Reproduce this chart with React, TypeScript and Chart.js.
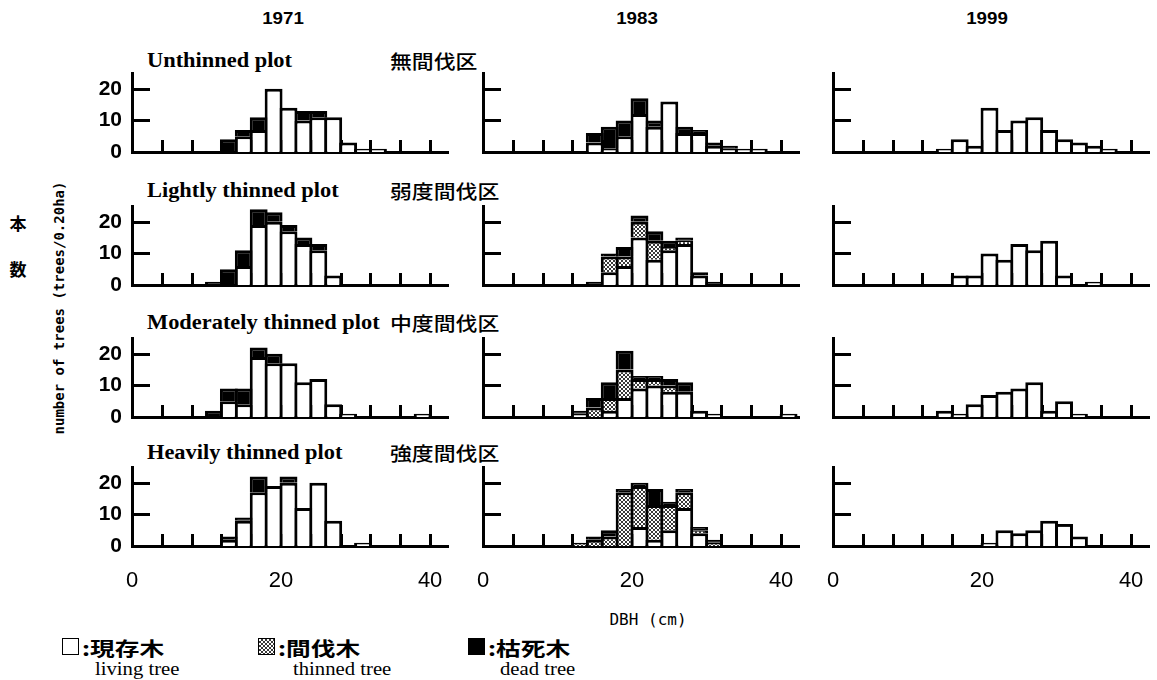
import React, { useEffect, useRef } from "react";
import { Chart, registerables } from "chart.js";

Chart.register(...registerables);

// DBH class centers (cm), 2 cm classes from 0-2 to 40-42
const BIN_CENTERS = [1, 3, 5, 7, 9, 11, 13, 15, 17, 19, 21, 23, 25, 27, 29, 31, 33, 35, 37, 39, 41];
const MINOR_X_TICKS = [4, 8, 12, 16, 20, 24, 28, 32, 36, 40];
const Y_TICK_MARKS = [10, 20];
const YEARS = ["1971", "1983", "1999"];
const PLOTS_EN = ["Unthinned plot", "Lightly thinned plot", "Moderately thinned plot", "Heavily thinned plot"];
const PLOTS_JA = ["無間伐区", "弱度間伐区", "中度間伐区", "強度間伐区"];

// Unthinned plot
const U71_LIVING = [0, 0, 0, 0, 0, 0, 0, 5, 7, 20, 14, 10, 11, 11, 3, 1, 1, 0, 0, 0, 0];
const U71_DEAD = [0, 0, 0, 0, 0, 0, 4, 2, 4, 0, 0, 3, 2, 0, 0, 0, 0, 0, 0, 0, 0];
const U83_LIVING = [0, 0, 0, 0, 0, 0, 0, 3, 1, 5, 12, 8, 16, 6, 6, 2, 1, 1, 1, 0, 0];
const U83_DEAD = [0, 0, 0, 0, 0, 0, 0, 3, 7, 5, 5, 2, 0, 2, 1, 1, 1, 0, 0, 0, 0];
const U99_LIVING = [0, 0, 0, 0, 0, 0, 0, 1, 4, 2, 14, 7, 10, 11, 7, 4, 3, 2, 1, 0, 0];

// Lightly thinned plot
const L71_LIVING = [0, 0, 0, 0, 0, 0, 0, 6, 19, 20, 17, 13, 11, 3, 0, 0, 0, 0, 0, 0, 0];
const L71_DEAD = [0, 0, 0, 0, 0, 1, 5, 5, 5, 3, 2, 2, 2, 0, 0, 0, 0, 0, 0, 0, 0];
const L83_LIVING = [0, 0, 0, 0, 0, 0, 0, 0, 4, 6, 15, 8, 11, 13, 3, 0, 0, 0, 0, 0, 0];
const L83_THINNED = [0, 0, 0, 0, 0, 0, 0, 0, 5, 3, 5, 6, 1, 1, 0, 0, 0, 0, 0, 0, 0];
const L83_DEAD = [0, 0, 0, 0, 0, 0, 0, 1, 1, 3, 2, 3, 2, 1, 1, 1, 0, 0, 0, 0, 0];
const L99_LIVING = [0, 0, 0, 0, 0, 0, 0, 0, 3, 3, 10, 8, 13, 11, 14, 3, 0, 1, 0, 0, 0];

// Moderately thinned plot
const M71_LIVING = [0, 0, 0, 0, 0, 0, 5, 4, 19, 17, 17, 11, 12, 4, 1, 0, 0, 0, 0, 1, 0];
const M71_DEAD = [0, 0, 0, 0, 0, 2, 4, 5, 3, 3, 0, 0, 0, 0, 0, 0, 0, 0, 0, 0, 0];
const M83_LIVING = [0, 0, 0, 0, 0, 0, 1, 0, 2, 6, 9, 10, 8, 8, 2, 1, 0, 0, 0, 0, 1];
const M83_THINNED = [0, 0, 0, 0, 0, 0, 0, 3, 4, 9, 3, 2, 2, 0, 0, 0, 0, 0, 0, 0, 0];
const M83_DEAD = [0, 0, 0, 0, 0, 0, 1, 3, 5, 6, 1, 1, 2, 3, 0, 0, 0, 0, 0, 0, 0];
const M99_LIVING = [0, 0, 0, 0, 0, 0, 0, 2, 1, 4, 7, 8, 9, 11, 2, 5, 1, 0, 0, 0, 0];

// Heavily thinned plot
const H71_LIVING = [0, 0, 0, 0, 0, 0, 2, 8, 17, 19, 20, 12, 20, 8, 0, 1, 0, 0, 0, 0, 0];
const H71_DEAD = [0, 0, 0, 0, 0, 0, 1, 1, 5, 0, 2, 0, 0, 0, 0, 0, 0, 0, 0, 0, 0];
const H83_LIVING = [0, 0, 0, 0, 0, 0, 0, 0, 0, 0, 6, 2, 5, 12, 4, 0, 0, 0, 0, 0, 0];
const H83_THINNED = [0, 0, 0, 0, 0, 0, 1, 2, 3, 17, 13, 11, 8, 5, 1, 1, 0, 0, 0, 0, 0];
const H83_DEAD = [0, 0, 0, 0, 0, 0, 0, 1, 2, 1, 1, 5, 1, 1, 1, 1, 0, 0, 0, 0, 0];
const H99_LIVING = [0, 0, 0, 0, 0, 0, 0, 0, 0, 0, 1, 5, 4, 5, 8, 7, 3, 0, 0, 0, 0];

type PanelDef = { row: number; col: number; living: number[]; thinned?: number[]; dead?: number[] };

const PANELS: PanelDef[] = [
  { row: 0, col: 0, living: U71_LIVING, dead: U71_DEAD },
  { row: 0, col: 1, living: U83_LIVING, dead: U83_DEAD },
  { row: 0, col: 2, living: U99_LIVING },
  { row: 1, col: 0, living: L71_LIVING, dead: L71_DEAD },
  { row: 1, col: 1, living: L83_LIVING, thinned: L83_THINNED, dead: L83_DEAD },
  { row: 1, col: 2, living: L99_LIVING },
  { row: 2, col: 0, living: M71_LIVING, dead: M71_DEAD },
  { row: 2, col: 1, living: M83_LIVING, thinned: M83_THINNED, dead: M83_DEAD },
  { row: 2, col: 2, living: M99_LIVING },
  { row: 3, col: 0, living: H71_LIVING, dead: H71_DEAD },
  { row: 3, col: 1, living: H83_LIVING, thinned: H83_THINNED, dead: H83_DEAD },
  { row: 3, col: 2, living: H99_LIVING },
];

// layout
const X_MAX = 42.4;
const Y_MAX = 25;
const PLOT_W = 316;
const PLOT_H = 79;
const COL_X0 = [132, 483, 833];
const ROW_BASE = [152, 285, 417, 546];
const PAD_L = 50;
const PAD_R = 12;
const PAD_T = 6;
const BW = 3;
const BIN_PX = (2 * PLOT_W) / X_MAX;
const BAR_PCT = (BIN_PX + BW) / BIN_PX;

let dotPattern: CanvasPattern | string | null = null;
function getDotPattern() {
  if (dotPattern) return dotPattern;
  const c = document.createElement("canvas");
  c.width = 4;
  c.height = 4;
  const g = c.getContext("2d")!;
  g.fillStyle = "#fff";
  g.fillRect(0, 0, 4, 4);
  g.fillStyle = "#3a3a3a";
  g.fillRect(0, 0, 2, 2);
  g.fillRect(2, 2, 2, 2);
  dotPattern = g.createPattern(c, "repeat") || "#888";
  return dotPattern;
}

const innerTicks = {
  id: "innerTicks",
  beforeDatasetsDraw(chart: any) {
    const { ctx, chartArea, scales } = chart;
    const x = scales.x;
    const y = scales.y;
    ctx.save();
    ctx.strokeStyle = "#000";
    ctx.lineWidth = 3;
    ctx.beginPath();
    for (const v of MINOR_X_TICKS) {
      const px = Math.round(x.getPixelForValue(v)) + 0.5;
      ctx.moveTo(px, chartArea.bottom);
      ctx.lineTo(px, chartArea.bottom - 12);
    }
    for (const v of Y_TICK_MARKS) {
      const py = Math.round(y.getPixelForValue(v)) + 0.5;
      ctx.moveTo(chartArea.left, py);
      ctx.lineTo(chartArea.left + 18, py);
    }
    ctx.stroke();
    ctx.restore();
  },
};

function Panel({ def }: { def: PanelDef }) {
  const ref = useRef<HTMLCanvasElement | null>(null);
  const padB = def.row === 3 ? 50 : 6;
  const W = PAD_L + PLOT_W + PAD_R;
  const H = PAD_T + PLOT_H + padB;

  useEffect(() => {
    if (!ref.current) return;
    const toPts = (arr: number[]) => BIN_CENTERS.map((x, i) => ({ x, y: arr[i] }));
    const datasets: any[] = [
      { label: "living tree", data: toPts(def.living), backgroundColor: "#ffffff" },
    ];
    if (def.thinned) datasets.push({ label: "thinned tree", data: toPts(def.thinned), backgroundColor: getDotPattern() });
    if (def.dead) datasets.push({ label: "dead tree", data: toPts(def.dead), backgroundColor: "#000000" });

    const chart = new Chart(ref.current, {
      type: "bar",
      data: { datasets },
      options: {
        animation: false,
        responsive: false,
        devicePixelRatio: 1,
        events: [],
        layout: { padding: { top: PAD_T, right: PAD_R, left: 0, bottom: 0 } },
        plugins: { legend: { display: false }, tooltip: { enabled: false } },
        datasets: {
          bar: {
            barPercentage: BAR_PCT,
            categoryPercentage: 1,
            borderWidth: BW,
            borderColor: "#000",
            borderSkipped: "start",
          },
        },
        scales: {
          x: {
            type: "linear",
            min: 0,
            max: X_MAX,
            offset: false,
            stacked: true,
            z: 1,
            grid: { display: false, drawTicks: false, offset: false },
            border: { display: true, color: "#000", width: 3 },
            ticks: {
              display: def.row === 3,
              stepSize: 20,
              includeBounds: false,
              autoSkip: false,
              maxRotation: 0,
              padding: 22,
              color: "#000",
              font: { family: "'Liberation Sans', Arial, sans-serif", size: 22 },
            },
            afterFit: (s: any) => {
              s.height = padB;
              s.paddingLeft = 0;
              s.paddingRight = 0;
            },
          },
          y: {
            min: 0,
            max: Y_MAX,
            stacked: true,
            z: 1,
            grid: { display: false, drawTicks: false },
            border: { display: true, color: "#000", width: 3 },
            ticks: {
              display: def.col === 0,
              stepSize: 10,
              includeBounds: false,
              padding: 10,
              color: "#000",
              font: { family: "'Liberation Sans', Arial, sans-serif", size: 21, weight: "bold" },
            },
            afterFit: (s: any) => {
              s.width = PAD_L;
              s.paddingTop = 0;
              s.paddingBottom = 0;
            },
          },
        },
      } as any,
      plugins: [innerTicks],
    });
    return () => chart.destroy();
  }, []);

  return (
    <canvas
      ref={ref}
      width={W}
      height={H}
      style={{
        position: "absolute",
        left: COL_X0[def.col] - PAD_L,
        top: ROW_BASE[def.row] - PLOT_H - PAD_T,
        width: W,
        height: H,
      }}
    />
  );
}

const ROW_TITLE_Y = [60, 190, 322, 452];
const HEADER_X = [283, 637, 987];

function Txt(props: {
  x: number;
  y: number;
  children: React.ReactNode;
  font: string;
  center?: boolean;
  sx?: number;
  rotate?: number;
}) {
  const sx = props.sx ?? 1;
  const rot = props.rotate ? ` rotate(${props.rotate}deg)` : "";
  return (
    <div
      style={{
        position: "absolute",
        left: props.x,
        top: props.y,
        font: props.font,
        color: "#000",
        whiteSpace: "nowrap",
        lineHeight: 1,
        transformOrigin: props.center ? "50% 50%" : "0 50%",
        transform: props.center
          ? `translate(-50%, -50%)${rot} scaleX(${sx})`
          : `translate(0, -50%) scaleX(${sx})`,
      }}
    >
      {props.children}
    </div>
  );
}

const SERIF = "'Liberation Serif', 'Times New Roman', serif";
const SANS = "'Liberation Sans', Arial, sans-serif";
const CJK = "'Noto Sans CJK JP', sans-serif";
const MONO = "'DejaVu Sans Mono', monospace";

export default function App() {
  return (
    <div
      style={{
        position: "fixed",
        left: 0,
        top: 0,
        width: 1157,
        height: 680,
        background: "#fff",
        overflow: "hidden",
      }}
    >
      {YEARS.map((y, i) => (
        <Txt key={y} x={HEADER_X[i]} y={18} center sx={1.1} font={`bold 17px ${SANS}`}>
          {y}
        </Txt>
      ))}
      {PLOTS_EN.map((t, i) => (
        <Txt key={t} x={147} y={ROW_TITLE_Y[i]} sx={1.12} font={`bold 20px ${SERIF}`}>
          {t}
        </Txt>
      ))}
      {PLOTS_JA.map((t, i) => (
        <Txt key={t} x={390} y={ROW_TITLE_Y[i]} sx={1.15} font={`500 19px ${CJK}`}>
          {t}
        </Txt>
      ))}

      <Txt x={18} y={222} center font={`bold 17px ${CJK}`}>本</Txt>
      <Txt x={18} y={268} center font={`bold 17px ${CJK}`}>数</Txt>
      <Txt x={59} y={308} center rotate={-90} font={`bold 14px ${MONO}`}>
        number of trees (trees/0.20ha)
      </Txt>

      {PANELS.map((p) => (
        <Panel key={`${p.row}-${p.col}`} def={p} />
      ))}

      <Txt x={648} y={620} center font={`16px ${MONO}`}>DBH (cm)</Txt>

      {/* legend */}
      <div style={{ position: "absolute", left: 62, top: 638, width: 15, height: 15, border: "1.5px solid #000", background: "#fff" }} />
      <Txt x={82} y={647} sx={1.3} font={`bold 19px ${CJK}`}>:現存木</Txt>
      <Txt x={95} y={669} sx={1.15} font={`18px ${SERIF}`}>living tree</Txt>

      <div
        style={{
          position: "absolute",
          left: 258,
          top: 638,
          width: 15,
          height: 15,
          border: "1.5px solid #000",
          backgroundImage: "repeating-conic-gradient(#3a3a3a 0% 25%, #fff 0% 50%)",
          backgroundSize: "4px 4px",
        }}
      />
      <Txt x={278} y={647} sx={1.3} font={`bold 19px ${CJK}`}>:間伐木</Txt>
      <Txt x={293} y={669} sx={1.15} font={`18px ${SERIF}`}>thinned tree</Txt>

      <div style={{ position: "absolute", left: 468, top: 638, width: 15, height: 15, border: "1.5px solid #000", background: "#000" }} />
      <Txt x={488} y={647} sx={1.3} font={`bold 19px ${CJK}`}>:枯死木</Txt>
      <Txt x={500} y={669} sx={1.15} font={`18px ${SERIF}`}>dead tree</Txt>
    </div>
  );
}
